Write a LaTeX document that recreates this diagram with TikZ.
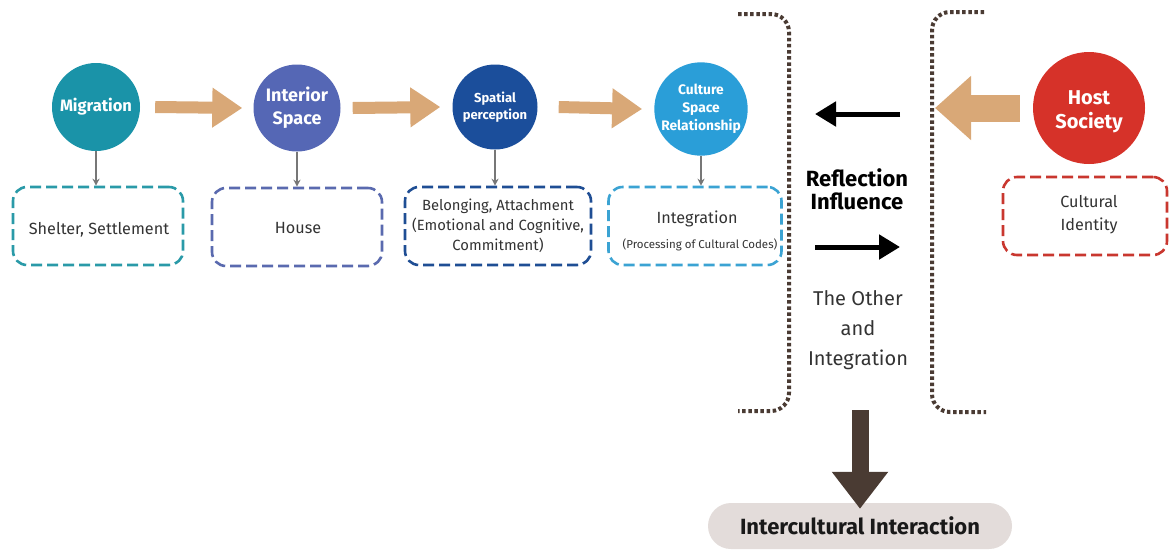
\documentclass[tikz,border=0pt]{standalone}
\usepackage{fontspec}
\setmainfont{Fira Sans}
\usetikzlibrary{arrows.meta}
\definecolor{cMig}{HTML}{1A93A8}
\definecolor{cInt}{HTML}{5567B5}
\definecolor{cSpa}{HTML}{1B4E9B}
\definecolor{cCul}{HTML}{2A9ED8}
\definecolor{cHost}{HTML}{D63229}
\definecolor{bMig}{HTML}{2A9AA8}
\definecolor{bInt}{HTML}{5A6AAF}
\definecolor{bSpa}{HTML}{1F4E94}
\definecolor{bCul}{HTML}{3BA3D3}
\definecolor{bHost}{HTML}{C9372F}
\definecolor{tan}{HTML}{D9A877}
\definecolor{dbrown}{HTML}{4A3B33}
\definecolor{pill}{HTML}{E3DCDA}
\definecolor{txt}{HTML}{333333}
\definecolor{gray7}{HTML}{777777}
\begin{document}
\begin{tikzpicture}[x=1pt,y=-1pt,
  circ/.style={circle, fill=#1, text=white, align=center, inner sep=0pt},
  dbox/.style={draw=#1, line width=2.6pt, dash pattern=on 11pt off 5pt, rounded corners=14pt,
     inner sep=0pt, minimum height=78pt},
  btxt/.style={align=center, inner sep=0pt, text=txt},
  tanarr/.style={draw=tan, line width=12pt, -{Triangle[length=30pt,width=38pt]}},
  grayarr/.style={draw=gray7, line width=1.6pt, -{Stealth[length=7pt,width=7pt]}},
  blackarr/.style={draw=black, line width=5pt, -{Triangle[length=21pt,width=24pt]}},
  dotbr/.style={draw=dbrown, line width=4pt, dash pattern=on 3.5pt off 2.6pt, rounded corners=18pt}
]
\useasboundingbox[fill=white] (0,0) rectangle (1169,550);

% circles
\node[circ=cMig, minimum size=88pt, font=\fontsize{16.5}{19}\selectfont\bfseries] (mig) at (96,107) {Migration};
\node[circ=cInt, minimum size=87pt, font=\fontsize{18}{23}\selectfont\bfseries] (int) at (297,108) {Interior\\Space};
\node[circ=cSpa, minimum size=85pt, font=\fontsize{13}{17}\selectfont\bfseries] (spa) at (495,107) {Spatial\\perception};
\node[circ=cCul, minimum size=88pt, font=\fontsize{13.8}{18}\selectfont\bfseries] (cul) at (701,109) {Culture\\Space\\Relationship};
\node[circ=cHost, minimum size=112pt] (host) at (1089,108) {};
\node[align=center, inner sep=0pt, text=white, font=\fontsize{20}{24}\selectfont\bfseries] (hostt) at (1089,112) {Host\\Society};

% dashed boxes
\node[dbox=bMig, minimum width=170pt] (box1) at (98,226) {};
\node[dbox=bInt, minimum width=170pt] (box2) at (297,227) {};
\node[dbox=bSpa, minimum width=186pt] (box3) at (498,226) {};
\node[dbox=bCul, minimum width=173pt] (box4) at (695,226) {};
\node[dbox=bHost, minimum width=164pt] (box5) at (1085,216) {};

\node[btxt, font=\fontsize{16.2}{20}\selectfont] (t1) at (99,230) {Shelter, Settlement};
\node[btxt, font=\fontsize{16.2}{20}\selectfont] (t2) at (298,228) {House};
\node[btxt, font=\fontsize{14.8}{20}\selectfont] (t3) at (498,226) {Belonging, Attachment\\(Emotional and Cognitive,\\Commitment)};
\node[btxt, font=\fontsize{16.2}{20}\selectfont] (t4a) at (697,219) {Integration};
\node[btxt, font=\fontsize{11.5}{14}\selectfont] (t4b) at (700,245) {(Processing of Cultural Codes)};
\node[btxt, font=\fontsize{16.2}{23}\selectfont] (t5) at (1089,215) {Cultural\\Identity};

% tan arrows
\draw[tanarr] ([xshift=15pt]mig.east) -- ([xshift=-11pt]int.west);
\draw[tanarr] ([xshift=12pt]int.east) -- ([xshift=-12pt]spa.west);
\draw[tanarr] ([xshift=21pt]spa.east) -- ([xshift=-12pt]cul.west);

% gray arrows
\draw[grayarr] (mig.south) -- (mig.south |- box1.north);
\draw[grayarr] (int.south) -- (int.south |- box2.north);
\draw[grayarr] (spa.south) -- (spa.south |- box3.north);
\draw[grayarr] (cul.south) -- (cul.south |- box4.north);

% brackets
\draw[dotbr] (738,14) -- (789,14) -- (789,411) -- (738,411);
\draw[dotbr] (984,12) -- (932,12) -- (932,412) -- (986,412);

% host arrow
\coordinate (hostTip) at (935,108);
\draw[draw=tan, line width=27pt, -{Triangle[length=36pt,width=62pt]}] ([xshift=-13pt]host.west) -- (hostTip);

% middle texts and arrows
\node[font=\fontsize{22}{23}\selectfont\bfseries, align=center, text=black] (refl) at (857,189) {Reflection\\Influence};
\node[font=\fontsize{20}{30}\selectfont, align=center, text=txt] (other) at (858,330) {The Other\\and\\Integration};
\coordinate (la1) at (900,114);
\coordinate (la2) at (815,114);
\coordinate (ra1) at (815,247);
\coordinate (ra2) at (900,247);
\draw[blackarr] (la1) -- (la2);
\draw[blackarr] (ra1) -- (ra2);

% bottom
\node[fill=pill, rounded corners=23pt, minimum width=304pt, minimum height=46pt, inner sep=0pt,
      font=\fontsize{22}{24}\selectfont\bfseries, text=black!90] (inter) at (860,526) {Intercultural Interaction};
\coordinate (dtop) at (860,410);
\draw[draw=dbrown, line width=17pt, -{Triangle[length=37pt,width=54pt]}] (dtop) -- ([yshift=-6pt]inter.north);
\end{tikzpicture}
\end{document}
